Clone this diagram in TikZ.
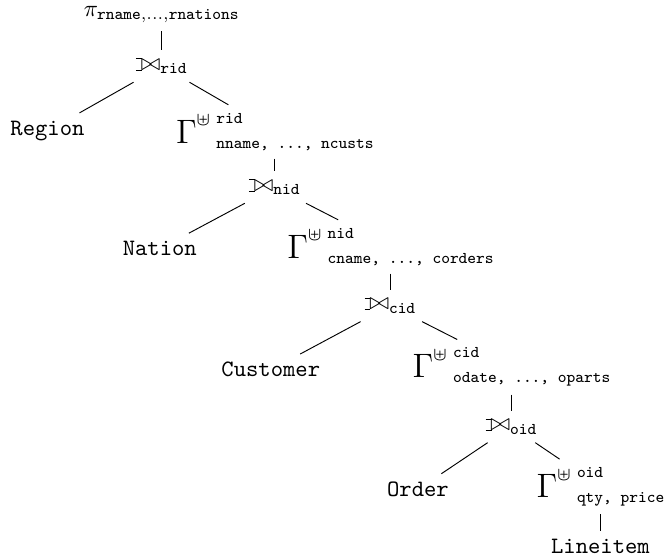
\documentclass[tikz,border=0pt]{standalone}
\usepackage{amsmath}
\usepackage{tikz}

\newcommand{\lojn}{\mathbin{\setbox0=\hbox{$\bowtie$}\rule[-.02ex]{.25em}{.4pt}\llap{\rule[\ht0]{.25em}{.4pt}}\mkern-5.8mu\bowtie}}
\newcommand{\grp}[2]{\mbox{\Large$\Gamma$}^{\mbox{\footnotesize$\uplus$}}\:\raisebox{8.5pt}{\rlap{$\scriptstyle\texttt{#1}$}}\raisebox{-2.1pt}{$\scriptstyle\texttt{#2}$}}

\begin{document}
\begin{tikzpicture}
    \useasboundingbox (0,0) rectangle (9.96,-8.34);
    \node (pi) at (2.42, -0.22) {$\pi_{\mathtt{rname},\ldots,\mathtt{rnations}}$};
    \node (jr) at (2.42, -0.99) {$\lojn_{\texttt{rid}}$};
    \node (region) at (0.71, -1.96) {\texttt{Region}};
    \node (gr) at (4.11, -1.97) {$\grp{rid}{nname, ..., ncusts}$};
    \node (jn) at (4.11, -2.80) {$\lojn_{\texttt{nid}}$};
    \node (nation) at (2.39, -3.72) {\texttt{Nation}};
    \node (gn) at (5.84, -3.69) {$\grp{nid}{cname, ..., corders}$};
    \node (jc) at (5.84, -4.57) {$\lojn_{\texttt{cid}}$};
    \node (customer) at (4.05, -5.53) {\texttt{Customer}};
    \node (gc) at (7.65, -5.49) {$\grp{cid}{odate, ..., oparts}$};
    \node (jo) at (7.65, -6.38) {$\lojn_{\texttt{oid}}$};
    \node (order) at (6.25, -7.32) {\texttt{Order}};
    \node (go) at (8.98, -7.28) {$\grp{oid}{qty, price}$};
    \node (lineitem) at (8.98, -8.17) {\texttt{Lineitem}};

    \draw (pi) -- (jr);
    \draw (jr) -- (region);
    \draw (jr) -- (gr);
    \draw (gr) -- (jn);
    \draw (jn) -- (nation);
    \draw (jn) -- (gn);
    \draw (gn) -- (jc);
    \draw (jc) -- (customer);
    \draw (jc) -- (gc);
    \draw (gc) -- (jo);
    \draw (jo) -- (order);
    \draw (jo) -- (go);
    \draw (go) -- (lineitem);
\end{tikzpicture}
\end{document}
